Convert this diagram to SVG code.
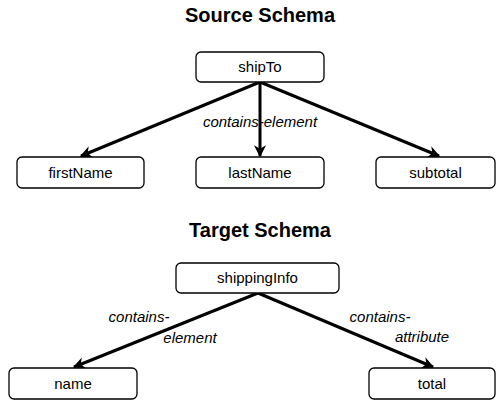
<svg xmlns="http://www.w3.org/2000/svg" width="496" height="400" viewBox="0 0 496 400">
<style>
.node rect{fill:#fff;stroke:#000;stroke-width:1.3}
.node text{font-family:"Liberation Sans",Arial,sans-serif;font-size:15px;text-anchor:middle}
.title{font-family:"Liberation Sans",Arial,sans-serif;font-size:20px;font-weight:bold;text-anchor:middle}
.lbl{font-family:"Liberation Sans",Arial,sans-serif;font-size:15px;font-style:italic;text-anchor:middle}
.edge{stroke:#000;stroke-width:3;fill:none;marker-end:url(#ah)}
</style>
<defs>
<marker id="ah" viewBox="0 0 10 10" refX="9" refY="5" markerWidth="4.5" markerHeight="4" orient="auto" markerUnits="strokeWidth">
<path d="M0,0 L10,5 L0,10 L3,5 z" fill="#000"/>
</marker>
</defs>
<rect width="496" height="400" fill="#fff"/>
<text class="title" x="260" y="22">Source Schema</text>
<text class="title" x="260" y="237">Target Schema</text>
<g id="connectors">
<line class="edge" x1="260" y1="82" x2="81" y2="156"/>
<line class="edge" x1="260" y1="82" x2="260" y2="156"/>
<line class="edge" x1="260" y1="82" x2="439" y2="156"/>
<line class="edge" x1="258" y1="293" x2="74" y2="367"/>
<line class="edge" x1="258" y1="293" x2="433" y2="367"/>
<text class="lbl" x="260" y="127">contains-element</text>
<text class="lbl" x="139" y="322">contains-</text>
<text class="lbl" x="190" y="343">element</text>
<text class="lbl" x="380" y="322">contains-</text>
<text class="lbl" x="422" y="342">attribute</text>
</g>
<g id="shipTo" class="node"><rect x="196" y="52" width="128" height="30" rx="5"/><text x="260" y="72">shipTo</text></g>
<g id="firstName" class="node"><rect x="17" y="157" width="127" height="31" rx="5"/><text x="80.5" y="178">firstName</text></g>
<g id="lastName" class="node"><rect x="196" y="157" width="128" height="31" rx="5"/><text x="260" y="178">lastName</text></g>
<g id="subtotal" class="node"><rect x="376" y="157" width="119" height="31" rx="5"/><text x="435.5" y="178">subtotal</text></g>
<g id="shippingInfo" class="node"><rect x="176" y="263" width="163" height="30" rx="5"/><text x="257.5" y="283">shippingInfo</text></g>
<g id="name" class="node"><rect x="9" y="368" width="128" height="31" rx="5"/><text x="73" y="389">name</text></g>
<g id="total" class="node"><rect x="369" y="368" width="126" height="31" rx="5"/><text x="432" y="389">total</text></g>
</svg>
